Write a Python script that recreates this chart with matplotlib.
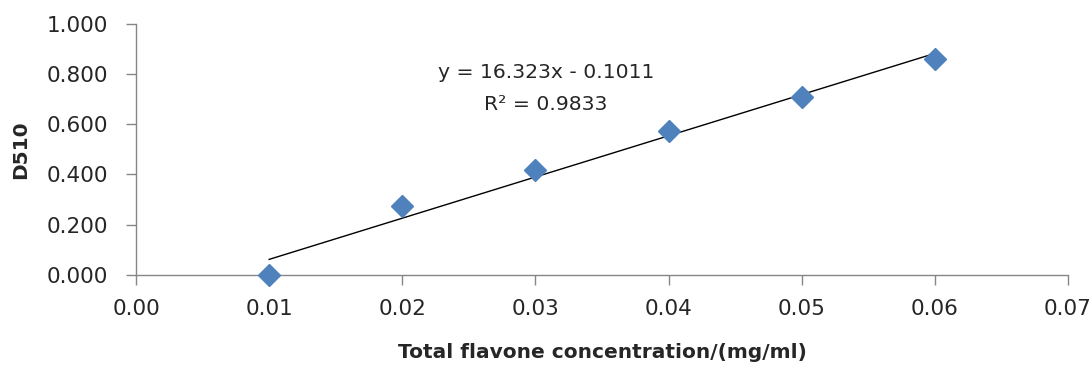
import matplotlib
matplotlib.use("Agg")
import matplotlib.pyplot as plt
import numpy as np

conc = [0.01, 0.02, 0.03, 0.04, 0.05, 0.06]
d510 = [0.000, 0.276, 0.418, 0.573, 0.707, 0.858]
x_ticks = [0.00, 0.01, 0.02, 0.03, 0.04, 0.05, 0.06, 0.07]
y_ticks = [0.0, 0.2, 0.4, 0.6, 0.8, 1.0]
eq_text = "y = 16.323x - 0.1011"
r2_text = "R² = 0.9833"

plt.rcParams['font.family'] = ['DejaVu Sans']

fig = plt.figure(figsize=(10.91, 3.65), dpi=100)
ax = fig.add_axes([136/1091, 1-275/365, (1068-136)/1091, (275-23.7)/365])

coef = np.polyfit(conc, d510, 1)
xs = np.array([conc[0], conc[-1]])
ax.plot(xs, np.polyval(coef, xs), color='black', lw=1.0, zorder=2)
ax.plot(conc, d510, linestyle='none', marker='D', ms=11, color='#4F81BD',
        markeredgecolor='#4F81BD', zorder=3, clip_on=False)

ax.set_xlim(0, 0.07)
ax.set_ylim(0, 1.0)
ax.set_xticks(x_ticks)
ax.set_xticklabels([f"{v:.2f}" for v in x_ticks])
ax.set_yticks(y_ticks)
ax.set_yticklabels([f"{v:.3f}" for v in y_ticks])

for s in ['top', 'right']:
    ax.spines[s].set_visible(False)
for s in ['left', 'bottom']:
    ax.spines[s].set_color('#868686')
    ax.spines[s].set_linewidth(1.0)
ax.tick_params(axis='both', colors='#868686', labelcolor='#262626',
               labelsize=15.5, length=7, width=1.0, direction='out')
ax.tick_params(axis='x', pad=10.5)
ax.tick_params(axis='y', pad=13)

ax.set_xlabel("Total flavone concentration/(mg/ml)", fontsize=14.5,
              fontweight='bold', color='#262626', labelpad=17)
ax.set_ylabel("D510", fontsize=14.5, fontweight='bold', color='#262626',
              labelpad=12)

ax.text(0.0308, 0.805, eq_text, fontsize=14.7, color='#262626',
        ha='center', va='center')
ax.text(0.0308, 0.677, r2_text, fontsize=14.7, color='#262626',
        ha='center', va='center')

fig.savefig("out.png", dpi=100)
